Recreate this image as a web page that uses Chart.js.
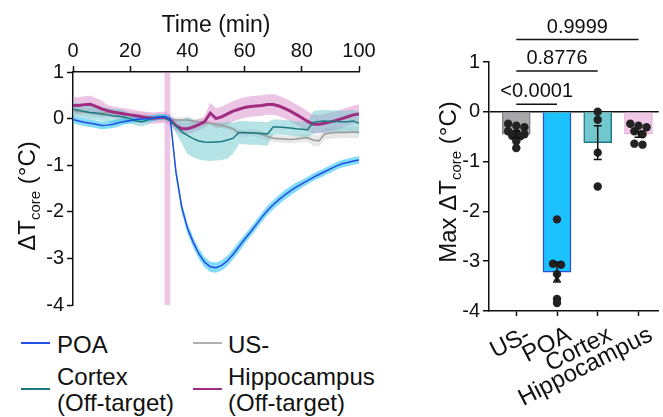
<!DOCTYPE html>
<html>
<head>
<meta charset="utf-8">
<script src="https://cdn.jsdelivr.net/npm/chart.js@4.4.1/dist/chart.umd.min.js"></script>
<style>
    body { margin: 0; background: #fff; }
    #wrap { position: relative; width: 663px; height: 417px; font-family: 'Liberation Sans', Arial, sans-serif; color: #111; }
    #temperatura { position: absolute; left: 0; top: 0; }
    #maximos { position: absolute; left: 420px; top: 0; }
    .key { position: absolute; height: 2px; width: 29px; }
    .lab { position: absolute; font-size: 24px; line-height: 26px; white-space: nowrap; }
</style>
</head>
<body>
<div id="wrap">
    <canvas id="temperatura" width="380" height="320"></canvas>
    <canvas id="maximos" width="243" height="417"></canvas>

    <div class="key" style="left:21px;top:342px;background:#2250e0"></div>
    <div class="lab" style="left:57px;top:332px">POA</div>
    <div class="key" style="left:193px;top:342px;background:#b0b0b0"></div>
    <div class="lab" style="left:228px;top:332px">US-</div>
    <div class="key" style="left:21px;top:388px;background:#1a7a80"></div>
    <div class="lab" style="left:57px;top:364px">Cortex<br>(Off-target)</div>
    <div class="key" style="left:193px;top:388px;background:#a02d82"></div>
    <div class="lab" style="left:228px;top:364px">Hippocampus<br>(Off-target)</div>
</div>
<script>
// time course (min) and mean / SEM of core temperature change
const tiempo = [0, 2, 4, 6, 8, 10, 12, 14, 16, 18, 20, 22, 24, 26, 28, 30, 32, 34, 36, 38, 40, 42, 44, 46, 48, 50,
    52, 54, 56, 58, 60, 62, 64, 66, 68, 70, 72, 74, 76, 78, 80, 82, 84, 86, 88, 90, 92, 94, 96, 98, 100];

const poa = [-0.02, -0.05, -0.08, -0.10, -0.12, -0.15, -0.14, -0.12, -0.09, -0.06, -0.04, -0.02, -0.01, 0.00, 0.01, 0.03, 0.04,
    0.00, -1.15, -1.90, -2.35, -2.65, -2.90, -3.08, -3.18, -3.20, -3.15, -3.05, -2.91, -2.75, -2.59, -2.44, -2.28, -2.12,
    -1.97, -1.85, -1.74, -1.64, -1.55, -1.47, -1.40, -1.33, -1.26, -1.20, -1.14, -1.08, -1.02, -0.97, -0.94, -0.91, -0.89];
const poaSem = [0.08, 0.08, 0.08, 0.08, 0.08, 0.08, 0.08, 0.08, 0.08, 0.06, 0.06, 0.06, 0.06, 0.06, 0.06, 0.06, 0.06,
    0.06, 0.11, 0.11, 0.11, 0.11, 0.11, 0.11, 0.11, 0.11, 0.11, 0.11, 0.11, 0.11, 0.10, 0.10, 0.10, 0.10,
    0.10, 0.10, 0.10, 0.10, 0.10, 0.10, 0.08, 0.08, 0.08, 0.08, 0.08, 0.08, 0.08, 0.08, 0.08, 0.08, 0.08];

const usNeg = [0.16, 0.15, 0.14, 0.12, 0.11, 0.12, 0.13, 0.12, 0.10, 0.08, 0.07, 0.06, 0.05, 0.04, 0.02, 0.01, 0.00,
    -0.02, -0.03, -0.03, -0.03, -0.05, -0.07, -0.08, -0.10, -0.12, -0.15, -0.18, -0.22, -0.31, -0.31, -0.30, -0.31, -0.34,
    -0.38, -0.42, -0.43, -0.44, -0.45, -0.44, -0.42, -0.41, -0.46, -0.48, -0.33, -0.31, -0.30, -0.30, -0.30, -0.29, -0.30];
const usNegSem = [0.08, 0.08, 0.08, 0.08, 0.08, 0.08, 0.08, 0.08, 0.08, 0.08, 0.08, 0.08, 0.08, 0.08, 0.08, 0.08, 0.04,
    0.04, 0.06, 0.06, 0.06, 0.06, 0.06, 0.06, 0.06, 0.06, 0.06, 0.06, 0.06, 0.08, 0.08, 0.08, 0.08, 0.08,
    0.08, 0.08, 0.08, 0.08, 0.08, 0.08, 0.08, 0.08, 0.12, 0.12, 0.12, 0.12, 0.12, 0.12, 0.12, 0.12, 0.12];

const cortex = [0.20, 0.18, 0.15, 0.13, 0.12, 0.10, 0.08, 0.06, 0.05, 0.03, 0.00, -0.05, -0.07, -0.03, 0.01, 0.04, 0.03,
    -0.04, -0.16, -0.28, -0.36, -0.43, -0.48, -0.50, -0.51, -0.50, -0.49, -0.46, -0.42, -0.30, -0.30, -0.31, -0.31, -0.32,
    -0.33, -0.18, -0.18, -0.19, -0.20, -0.22, -0.23, -0.24, -0.08, -0.06, -0.05, -0.06, -0.06, -0.07, -0.07, -0.05, -0.10];
const cortexSem = [0.15, 0.15, 0.15, 0.15, 0.15, 0.15, 0.15, 0.15, 0.15, 0.15, 0.10, 0.10, 0.10, 0.10, 0.06, 0.06, 0.06,
    0.06, 0.15, 0.25, 0.40, 0.40, 0.40, 0.40, 0.40, 0.40, 0.40, 0.40, 0.33, 0.25, 0.25, 0.25, 0.25, 0.25,
    0.25, 0.16, 0.16, 0.16, 0.16, 0.16, 0.16, 0.16, 0.24, 0.24, 0.24, 0.24, 0.24, 0.24, 0.24, 0.24, 0.24];

const hipo = [0.28, 0.28, 0.30, 0.31, 0.26, 0.21, 0.17, 0.14, 0.12, 0.10, 0.08, 0.06, 0.04, 0.02, 0.01, 0.02, 0.03,
    -0.03, -0.15, -0.22, -0.22, -0.18, -0.13, -0.07, 0.12, 0.00, 0.04, 0.10, 0.16, 0.20, 0.24, 0.26, 0.27, 0.28,
    0.30, 0.30, 0.27, 0.22, 0.16, 0.09, 0.02, -0.06, -0.12, -0.12, -0.10, -0.07, -0.04, 0.00, 0.04, 0.08, 0.10];
const hipoSem = [0.18, 0.18, 0.18, 0.18, 0.18, 0.18, 0.12, 0.12, 0.12, 0.12, 0.12, 0.12, 0.12, 0.12, 0.12, 0.12, 0.12,
    0.12, 0.12, 0.12, 0.12, 0.12, 0.12, 0.12, 0.22, 0.22, 0.22, 0.22, 0.22, 0.22, 0.22, 0.22, 0.22, 0.22,
    0.22, 0.22, 0.22, 0.22, 0.22, 0.22, 0.22, 0.22, 0.20, 0.20, 0.20, 0.20, 0.20, 0.20, 0.20, 0.20, 0.20];

const estimulo = [32, 34];

// max change per group
const grupos = ['US-', 'POA', 'Cortex', 'Hippocampus'];
const mediaMax = [-0.45, -3.22, -0.62, -0.45];
const semMax = [0.07, 0.20, 0.34, 0.06];
const puntosUS = [-0.24, -0.28, -0.31, -0.39, -0.43, -0.45, -0.48, -0.49, -0.59, -0.73];
const puntosPOA = [-2.16, -3.05, -3.07, -3.26, -3.36, -3.76, -3.84];
const puntosCortex = [0.00, -0.16, -0.82, -1.50];
const puntosHipo = [-0.24, -0.28, -0.31, -0.39, -0.45, -0.64, -0.66];
const comparaciones = [[1, 2], [1, 3], [1, 4]];
const valoresP = ['<0.0001', '0.8776', '0.9999'];
const alturaP = [0.15, 0.82, 1.45];

Chart.defaults.font.family = "'Liberation Sans', Arial, sans-serif";
Chart.defaults.color = '#111';

document.addEventListener('DOMContentLoaded', function () {
    temperatura()
    maximos()
})

function tituloVertical(ctx, partes, x, y) {
    ctx.save();
    ctx.translate(x, y);
    ctx.rotate(-Math.PI / 2);
    ctx.fillStyle = '#111';
    ctx.textBaseline = 'alphabetic';
    ctx.textAlign = 'left';
    let total = 0;
    partes.forEach(function (p) {
        ctx.font = p[1] + "px 'Liberation Sans', Arial, sans-serif";
        p.ancho = ctx.measureText(p[0]).width;
        total += p.ancho;
    });
    let pos = -total / 2;
    partes.forEach(function (p) {
        ctx.font = p[1] + "px 'Liberation Sans', Arial, sans-serif";
        ctx.fillText(p[0], pos, p[2]);
        pos += p.ancho;
    });
    ctx.restore();
}

function ejeBase(min, max, paso) {
    return {
        min: min,
        max: max,
        ticks: { stepSize: paso, font: { size: 20 }, color: '#111', padding: 3, maxRotation: 0 },
        grid: { drawOnChartArea: false, tickLength: 6, tickColor: '#111', tickWidth: 1.5 },
        border: { color: '#111', width: 1.5 }
    };
}

function temperatura() {
    const ctx = document.getElementById('temperatura');
    const series = [
        { media: poa, sem: poaSem, linea: '#1f4fe0', banda: 'rgba(30,190,245,0.55)', grosor: 1.5 },
        { media: cortex, sem: cortexSem, linea: '#1a7a80', banda: 'rgba(110,200,205,0.5)', grosor: 1.5 },
        { media: hipo, sem: hipoSem, linea: '#a02d82', banda: 'rgba(215,140,200,0.5)', grosor: 3 },
        { media: usNeg, sem: usNegSem, linea: '#9a9a9a', banda: 'rgba(195,195,195,0.4)', grosor: 1.5 }
    ];
    let datasets = [];
    series.forEach(function (s) {
        datasets.push({
            data: s.media.map((v, i) => ({ x: tiempo[i], y: v + s.sem[i] })),
            borderWidth: 0, borderColor: 'rgba(0,0,0,0)', pointRadius: 0, fill: false, order: 10
        });
        datasets.push({
            data: s.media.map((v, i) => ({ x: tiempo[i], y: v - s.sem[i] })),
            borderWidth: 0, borderColor: 'rgba(0,0,0,0)', pointRadius: 0, fill: '-1',
            backgroundColor: s.banda, order: 10
        });
    });
    series.forEach(function (s) {
        datasets.push({
            data: s.media.map((v, i) => ({ x: tiempo[i], y: v })),
            borderColor: s.linea, borderWidth: s.grosor, pointRadius: 0, fill: false, order: 1
        });
    });

    const extras = {
        id: 'extras',
        beforeDatasetsDraw: function (chart) {
            const c = chart.ctx, a = chart.chartArea, xs = chart.scales.x;
            const x1 = xs.getPixelForValue(estimulo[0]);
            const x2 = xs.getPixelForValue(estimulo[1]);
            c.save();
            c.fillStyle = '#ecc6e4';
            c.fillRect(x1, a.top + 1, x2 - x1, a.bottom - a.top - 1);
            c.restore();
        },
        afterDraw: function (chart) {
            tituloVertical(chart.ctx, [['\u0394T', 24, 0], ['core', 15, 5], [' (\u00b0C)', 24, 0]], 35, 196);
        }
    };

    let ejeX = ejeBase(0, 100, 20);
    ejeX.type = 'linear';
    ejeX.position = 'top';
    ejeX.title = { display: true, text: 'Time (min)', font: { size: 23 }, color: '#111', padding: { top: 12, bottom: 0 } };
    ejeX.afterFit = function (eje) { eje.height = 72; };
    let ejeY = ejeBase(-4, 1, 1);
    ejeY.afterFit = function (eje) { eje.width = 73; };

    new Chart(ctx, {
        type: 'line',
        data: { datasets: datasets },
        options: {
            responsive: false,
            animation: false,
            layout: { padding: { left: 0, right: 21, top: 0, bottom: 8 } },
            plugins: { legend: { display: false }, tooltip: { enabled: false } },
            scales: { x: ejeX, y: ejeY }
        },
        plugins: [extras]
    });
}

function enjambre(valores, centro) {
    // spread points that sit at nearly the same level
    let filas = [];
    valores.forEach(function (v) {
        const f = filas[filas.length - 1];
        if (f && Math.abs(f[0] - v) < 0.08) f.push(v);
        else filas.push([v]);
    });
    let out = [];
    filas.forEach(function (f) {
        f.forEach(function (v, i) {
            out.push({ x: centro + (i - (f.length - 1) / 2) * 0.2, y: v });
        });
    });
    return out;
}

function maximos() {
    const ctx = document.getElementById('maximos');
    const rellenos = ['#a7a7a9', '#1bc2ff', '#71c8ce', '#f1c9e8'];
    const bordes = ['#858587', '#2650e0', '#1e7c84', '#e6b6dc'];

    const todos = [puntosUS, puntosPOA, puntosCortex, puntosHipo];
    let puntos = [];
    let estilos = [];
    todos.forEach(function (lista, g) {
        enjambre(lista, g + 1).forEach(function (p) {
            puntos.push(p);
            estilos.push(g === 1 && p.y === -3.36 ? 'triangle' : 'circle');
        });
    });

    const extras = {
        id: 'extras',
        afterDatasetsDraw: function (chart) {
            const c = chart.ctx, xs = chart.scales.x, ys = chart.scales.y;
            c.save();
            c.strokeStyle = '#111';
            c.lineWidth = 1.5;
            for (let i = 0; i < grupos.length; i++) {
                const x = xs.getPixelForValue(i + 1);
                const y1 = ys.getPixelForValue(mediaMax[i] + semMax[i]);
                const y2 = ys.getPixelForValue(mediaMax[i] - semMax[i]);
                c.beginPath();
                c.moveTo(x, y1); c.lineTo(x, y2);
                c.moveTo(x - 4, y1); c.lineTo(x + 4, y1);
                c.moveTo(x - 4, y2); c.lineTo(x + 4, y2);
                c.stroke();
            }
            c.restore();
        },
        afterDraw: function (chart) {
            const c = chart.ctx, xs = chart.scales.x, ys = chart.scales.y;
            c.save();
            c.strokeStyle = '#111';
            c.fillStyle = '#111';
            c.lineWidth = 1.5;
            c.font = "20px 'Liberation Sans', Arial, sans-serif";
            c.textAlign = 'center';
            c.textBaseline = 'alphabetic';
            for (let k = 0; k < comparaciones.length; k++) {
                const x1 = xs.getPixelForValue(comparaciones[k][0]);
                const x2 = xs.getPixelForValue(comparaciones[k][1]);
                const y = ys.getPixelForValue(alturaP[k]);
                c.beginPath();
                c.moveTo(x1, y); c.lineTo(x2, y);
                c.stroke();
                c.fillText(valoresP[k], (x1 + x2) / 2, y - 7);
            }
            // group names, slanted under the axis
            c.font = "24px 'Liberation Sans', Arial, sans-serif";
            c.textAlign = 'right';
            c.textBaseline = 'top';
            for (let i = 0; i < grupos.length; i++) {
                c.save();
                c.translate(xs.getPixelForValue(i + 1) + 7, xs.top + 12);
                c.rotate(-27 * Math.PI / 180);
                c.fillText(grupos[i], 0, 0);
                c.restore();
            }
            c.restore();
            tituloVertical(chart.ctx, [['Max \u0394T', 24, 0], ['core', 15, 5], [' (\u00b0C)', 24, 0]], 36, 182);
        }
    };

    let ejeY = ejeBase(-4, 1, 1);
    ejeY.grid = {
        drawOnChartArea: true,
        color: function (c) { return c.tick && c.tick.value === 0 ? '#111' : 'rgba(0,0,0,0)'; },
        lineWidth: 1.5, tickLength: 6, tickColor: '#111', tickWidth: 1.5
    };
    ejeY.afterFit = function (eje) { eje.width = 69; };

    let ejeX = ejeBase(0.33, 4.5, 1);
    ejeX.type = 'linear';
    ejeX.offset = false;
    ejeX.grid.offset = false;
    ejeX.grid.tickLength = 5;
    ejeX.ticks = { display: false, autoSkip: false };
    ejeX.afterBuildTicks = function (eje) { eje.ticks = grupos.map((g, i) => ({ value: i + 1 })); };
    ejeX.afterFit = function (eje) { eje.height = 106; };

    new Chart(ctx, {
        type: 'bar',
        data: {
            datasets: [{
                type: 'scatter',
                data: puntos,
                pointRadius: 4.2,
                pointStyle: estilos,
                pointBackgroundColor: '#222',
                pointBorderWidth: 0,
                order: 0
            }, {
                type: 'bar',
                data: grupos.map((g, i) => ({ x: i + 1, y: mediaMax[i] })),
                backgroundColor: rellenos,
                borderColor: bordes,
                borderWidth: 1.5,
                barThickness: 28,
                order: 2
            }]
        },
        options: {
            responsive: false,
            animation: false,
            layout: { padding: { left: 0, right: 0, top: 62, bottom: 0 } },
            plugins: { legend: { display: false }, tooltip: { enabled: false } },
            scales: { x: ejeX, y: ejeY }
        },
        plugins: [extras]
    });
}
</script>
</body>
</html>
